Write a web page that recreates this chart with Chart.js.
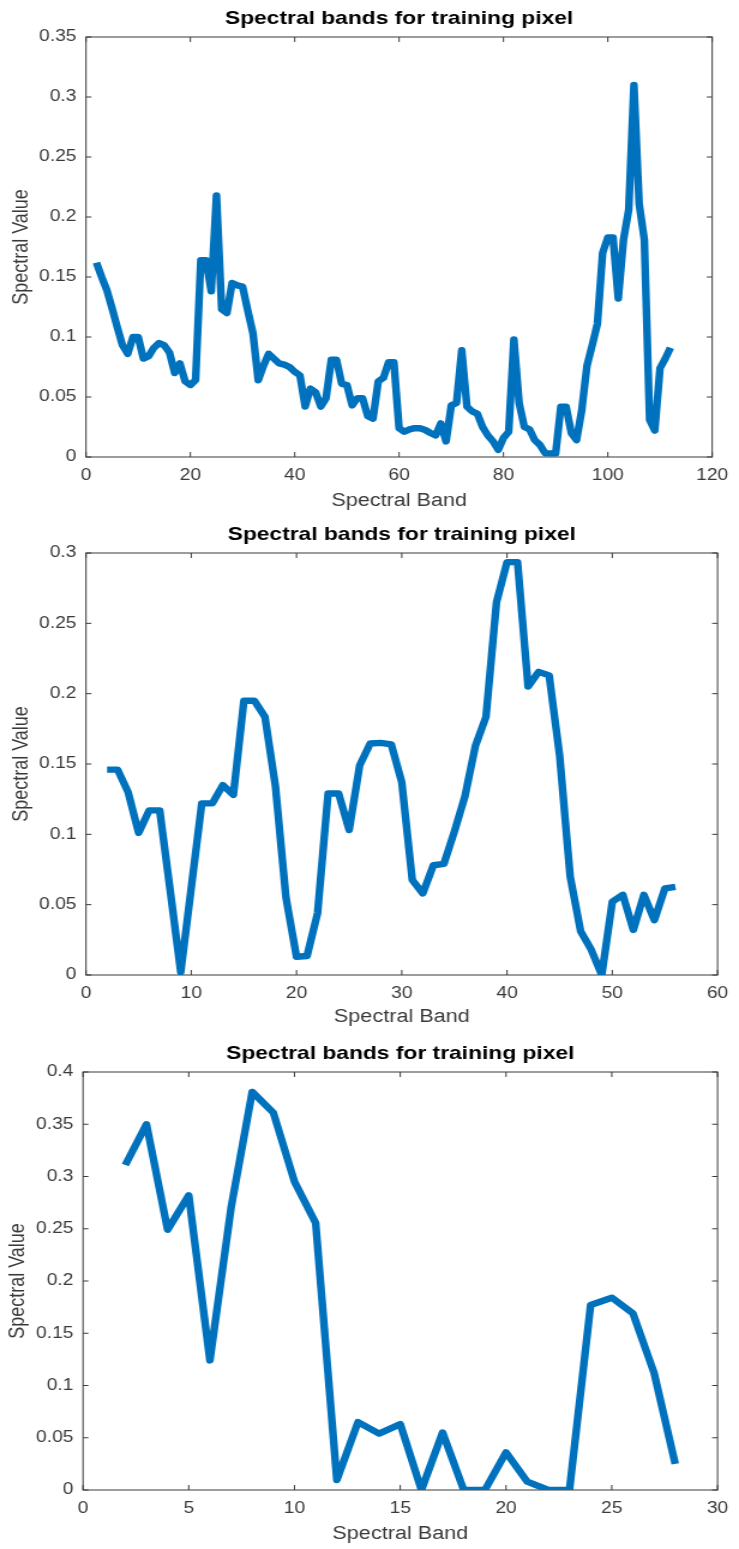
<!DOCTYPE html>
<html>
<head>
<meta charset="utf-8">
<script src="https://cdn.jsdelivr.net/npm/chart.js@4.4.1/dist/chart.umd.min.js"></script>
<style>
  html, body { margin: 0; padding: 0; background: #fff; }
  body { width: 739px; height: 1549px; position: relative; overflow: hidden; }
  canvas { position: absolute; left: 0; }
</style>
</head>
<body>
<canvas id="c1" width="616" height="516" style="top:0px;width:739px;height:516px"></canvas>
<canvas id="c2" width="616" height="516" style="top:516px;width:739px;height:516px"></canvas>
<canvas id="c3" width="616" height="516" style="top:1033px;width:739px;height:516px"></canvas>
<script>
// chart 1: bands 2..112
const bands1 = [2,3,4,5,6,7,8,9,10,11,12,13,14,15,16,17,18,19,20,21,22,23,24,25,26,27,28,29,30,31,
  32,33,34,35,36,37,38,39,40,41,42,43,44,45,46,47,48,49,50,51,52,53,54,55,56,57,58,59,60,61,
  62,63,64,65,66,67,68,69,70,71,72,73,74,75,76,77,78,79,80,81,82,83,84,85,86,87,88,89,90,91,
  92,93,94,95,96,97,98,99,100,101,102,103,104,105,106,107,108,109,110,111,112];
const values1 = [0.162,0.150,0.139,0.124,0.108,0.093,0.086,0.100,0.100,0.082,0.084,0.091,0.095,0.093,0.087,
  0.070,0.078,0.063,0.060,0.064,0.164,0.164,0.138,0.218,0.123,0.120,0.145,0.143,0.142,0.122,
  0.103,0.064,0.076,0.086,0.082,0.078,0.077,0.075,0.071,0.068,0.042,0.057,0.054,0.042,0.049,
  0.081,0.081,0.061,0.060,0.043,0.049,0.049,0.034,0.032,0.063,0.066,0.079,0.079,0.024,0.021,
  0.023,0.024,0.024,0.0225,0.020,0.018,0.028,0.013,0.043,0.045,0.089,0.042,0.038,0.036,0.025,
  0.018,0.013,0.006,0.016,0.021,0.098,0.045,0.025,0.023,0.014,0.010,0.003,0.003,0.003,0.042,
  0.042,0.020,0.014,0.039,0.076,0.093,0.111,0.170,0.183,0.183,0.132,0.181,0.206,0.310,0.211,
  0.181,0.031,0.022,0.074,0.082,0.091];
const xTicks1 = [0, 20, 40, 60, 80, 100, 120];
const yTicks1 = [0, 0.05, 0.1, 0.15, 0.2, 0.25, 0.3, 0.35];

// chart 2: bands 2..56
const bands2 = [2,3,4,5,6,7,8,9,10,11,12,13,14,15,16,17,18,19,20,21,22,23,24,25,26,27,28,29,
  30,31,32,33,34,35,36,37,38,39,40,41,42,43,44,45,46,47,48,49,50,51,52,53,54,55,56];
const values2 = [0.146,0.146,0.130,0.101,0.117,0.117,0.060,0.002,0.062,0.122,0.122,0.135,0.128,0.195,
  0.195,0.1835,0.134,0.055,0.013,0.0135,0.044,0.129,0.129,0.103,0.149,0.1646,0.165,0.164,0.137,
  0.0675,0.058,0.078,0.079,0.102,0.127,0.163,0.1835,0.265,0.2935,0.2935,0.205,0.2155,0.213,
  0.156,0.070,0.031,0.018,0.0,0.052,0.057,0.032,0.057,0.039,0.0616,0.0627];
const xTicks2 = [0, 10, 20, 30, 40, 50, 60];
const yTicks2 = [0, 0.05, 0.1, 0.15, 0.2, 0.25, 0.3];

// chart 3: bands 2..28
const bands3 = [2,3,4,5,6,7,8,9,10,11,12,13,14,15,16,17,18,19,20,21,22,23,24,25,26,27,28];
const values3 = [0.311,0.350,0.249,0.282,0.124,0.270,0.381,0.361,0.295,0.2555,0.0095,0.065,0.054,
  0.063,0.0,0.055,0.0,0.0,0.036,0.008,0.0,0.0,0.177,0.184,0.169,0.112,0.025];
const xTicks3 = [0, 5, 10, 15, 20, 25, 30];
const yTicks3 = [0, 0.05, 0.1, 0.15, 0.2, 0.25, 0.3, 0.35, 0.4];

const FONT = "'Liberation Sans', Arial, sans-serif";
const AXIS = '#3a3a3a';
const S = 739 / 616; // the reference is stretched sideways

const boxTicks = {
  id: 'boxTicks',
  beforeDatasetsDraw(chart) {
    const { ctx, chartArea: a, scales: { x, y } } = chart;
    ctx.save();
    ctx.strokeStyle = AXIS;
    ctx.lineWidth = 1;
    ctx.strokeRect(a.left, a.top, a.right - a.left, a.bottom - a.top);
    ctx.beginPath();
    x.ticks.forEach(t => {
      const p = x.getPixelForValue(t.value);
      ctx.moveTo(p, a.bottom); ctx.lineTo(p, a.bottom - 5);
      ctx.moveTo(p, a.top); ctx.lineTo(p, a.top + 5);
    });
    y.ticks.forEach(t => {
      const p = y.getPixelForValue(t.value);
      ctx.moveTo(a.left, p); ctx.lineTo(a.left + 4.5, p);
      ctx.moveTo(a.right, p); ctx.lineTo(a.right - 4.5, p);
    });
    ctx.stroke();
    ctx.restore();
  }
};

function makeChart(id, bands, values, xTicks, yTicks, box) {
  new Chart(document.getElementById(id), {
    type: 'line',
    data: {
      datasets: [{
        data: bands.map((b, i) => ({ x: b, y: values[i] })),
        borderColor: '#0072BD',
        borderWidth: 6.4,
        borderJoinStyle: 'round',
        pointRadius: 0,
        tension: 0,
        fill: false
      }]
    },
    options: {
      responsive: false,
      animation: false,
      devicePixelRatio: 1,
      layout: { padding: { left: 0, top: 0, bottom: 0, right: 616 - box.right / S } },
      plugins: {
        legend: { display: false },
        tooltip: { enabled: false },
        title: {
          display: true,
          text: 'Spectral bands for training pixel',
          color: '#000',
          fullSize: false,
          font: { family: FONT, size: 19, weight: 'bold', lineHeight: 1.2 },
          padding: { top: box.top - 30, bottom: 7.2 }
        }
      },
      scales: {
        x: {
          type: 'linear',
          min: xTicks[0],
          max: xTicks[xTicks.length - 1],
          afterBuildTicks: s => { s.ticks = xTicks.map(v => ({ value: v })); },
          afterFit: s => { s.height = 516 - box.bottom; },
          border: { display: false },
          grid: { display: false, drawTicks: false },
          ticks: { color: AXIS, font: { family: FONT, size: 16 }, padding: 9, maxRotation: 0, autoSkip: false },
          title: { display: true, text: 'Spectral Band', color: AXIS, font: { family: FONT, size: 18 }, padding: { top: 0, bottom: 4.5 } }
        },
        y: {
          type: 'linear',
          min: 0,
          max: yTicks[yTicks.length - 1],
          afterBuildTicks: s => { s.ticks = yTicks.map(v => ({ value: v })); },
          afterFit: s => { s.width = box.left / S; },
          border: { display: false },
          grid: { display: false, drawTicks: false },
          ticks: { color: AXIS, font: { family: FONT, size: 16 }, padding: 8, autoSkip: false, callback: v => String(+v.toFixed(2)) },
          title: { display: true, text: 'Spectral Value', color: AXIS, font: { family: FONT, size: 18 }, padding: { top: box.yTitle / S - 10.8, bottom: 0 } }
        }
      }
    },
    plugins: [boxTicks]
  });
}

makeChart('c1', bands1, values1, xTicks1, yTicks1, { left: 86, right: 721.5, top: 37, bottom: 457, yTitle: 21.7 });
makeChart('c2', bands2, values2, xTicks2, yTicks2, { left: 86, right: 722, top: 37, bottom: 459, yTitle: 21.7 });
makeChart('c3', bands3, values3, xTicks3, yTicks3, { left: 83, right: 730, top: 39, bottom: 457, yTitle: 18.3 });
</script>
</body>
</html>
